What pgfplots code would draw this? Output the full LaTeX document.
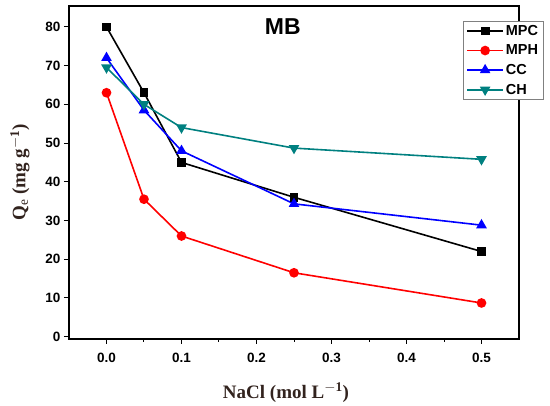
\documentclass[border=0pt]{standalone}
\usepackage{fontspec}
\setmainfont{Liberation Serif}
\setsansfont{Liberation Sans}
\usepackage{pgfplots}
\pgfplotsset{compat=1.18}
\pgfplotsset{mylegend/.style={legend image code/.code={\draw[mark repeat=2,mark phase=2,##1] plot coordinates {(0cm,0cm) (0.63cm,0cm) (1.26cm,0cm)};}}}
\definecolor{chteal}{RGB}{0,128,128}
\definecolor{lbl}{RGB}{50,35,30}
\begin{document}
\begin{tikzpicture}
\begin{axis}[
  at={(0pt,0pt)}, anchor=south west,
  scale only axis, width=450pt, height=333pt,
  xmin=-0.05, xmax=0.55, ymin=-0.6, ymax=85.4,
  xtick={0,0.1,0.2,0.3,0.4,0.5},
  minor xtick={0.05,0.15,0.25,0.35,0.45},
  ytick={0,10,...,80},
  xticklabels={0.0,0.1,0.2,0.3,0.4,0.5},
  xtick pos=lower, ytick pos=left,
  tick align=outside,
  major tick length=5pt, minor tick length=3pt,
  tick style={black, line width=1pt},
  axis line style={line width=1.2pt},
  /pgf/number format/assume math mode=true,
  ticklabel style={font=\sffamily\bfseries\fontsize{13.5}{15}\selectfont},
  xticklabel style={yshift=-6pt},
  xlabel={NaCl (mol L$^{\mathbf{-1}}$)},
  ylabel={Q$_{\mathrm{e}}$ (mg g$^{\mathbf{-1}}$)},
  label style={font=\bfseries\fontsize{19}{21}\selectfont, text=lbl},
  xlabel style={yshift=-13pt, xshift=-8pt},
  ylabel style={yshift=9pt},
  title={MB}, title style={at={(0.475,0.955)}, anchor=north, font=\sffamily\bfseries\fontsize{23}{25}\selectfont},
  legend style={at={(0.876,0.955)}, anchor=north west, draw=gray,
    font=\sffamily\bfseries\fontsize{14.5}{17}\selectfont, row sep=4pt},
  legend cell align=left,
  clip=false,
]
\addplot[black, line width=1.6pt, mark=square*, mark size=3.6pt, mark options={solid}, mylegend] coordinates {(0,80) (0.05,63) (0.1,45) (0.25,36) (0.5,22)};
\addlegendentry{MPC}
\addplot[red, line width=1.6pt, mark=*, mark size=4pt, mark options={solid}, mylegend] coordinates {(0,63) (0.05,35.5) (0.1,26) (0.25,16.5) (0.5,8.7)};
\addlegendentry{MPH}
\addplot[blue, line width=1.6pt, mark=triangle*, mark size=4.6pt, mark options={solid}, mylegend] coordinates {(0,72) (0.05,58.5) (0.1,48) (0.25,34.3) (0.5,28.8)};
\addlegendentry{CC}
\addplot[chteal, line width=1.6pt, mark=triangle*, mark size=4.6pt, mark options={solid, rotate=180}, mylegend] coordinates {(0,69.5) (0.05,60) (0.1,54) (0.25,48.7) (0.5,45.8)};
\addlegendentry{CH}
\end{axis}
\path (-69pt,-59pt) rectangle (481pt,339pt);
\end{tikzpicture}
\end{document}
